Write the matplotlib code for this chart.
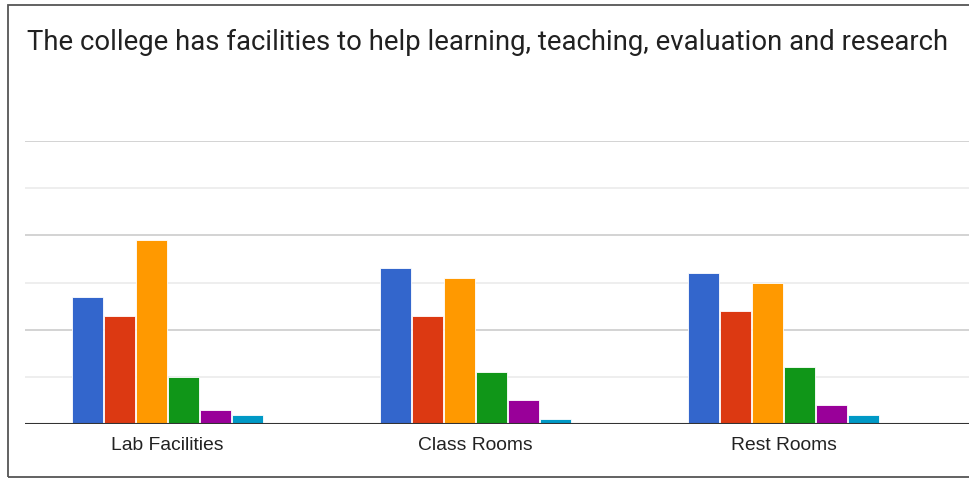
import numpy as np
import matplotlib
matplotlib.use('Agg')
import matplotlib.pyplot as plt
from matplotlib.patches import Rectangle

title = "The college has facilities to help learning, teaching, evaluation and research"
categories = ["Lab Facilities", "Class Rooms", "Rest Rooms"]

# one list of counts per response option, one entry per category
series_1 = [27, 33, 32]
series_2 = [23, 23, 24]
series_3 = [39, 31, 30]
series_4 = [10, 11, 12]
series_5 = [3, 5, 4]
series_6 = [2, 1, 2]
series = [series_1, series_2, series_3, series_4, series_5, series_6]
colors = ["#3366cc", "#dc3912", "#ff9900", "#109618", "#990099", "#0099c6"]

W, H = 969, 479
fig = plt.figure(figsize=(W / 100, H / 100), dpi=100)

# plot area in pixels: left 25, right 969, top 141, bottom 424
ax = fig.add_axes([25 / W, 1 - 424 / H, (969 - 25) / W, (424 - 141) / H])

x = np.arange(len(categories))
slot = 0.1037
bw = 0.099
for i, (vals, c) in enumerate(zip(series, colors)):
    offs = (i - 2.5) * slot
    ax.bar(x + offs, vals, width=bw, color=c, edgecolor="white",
           linewidth=0.6, zorder=3)

ax.set_xlim(-0.4627, 2.602)
ax.set_ylim(0, 60)

# gridlines: darker every 20, lighter in between
for yv in range(10, 61, 10):
    col = "#cccccc" if yv % 20 == 0 else "#ebebeb"
    ax.axhline(yv, color=col, linewidth=1.2, zorder=1)
ax.axhline(0, color="#333333", linewidth=1.5, zorder=4)

for s in ax.spines.values():
    s.set_visible(False)
ax.set_yticks([])
ax.set_xticks(x)
ax.set_xticklabels(categories, fontsize=13.9, family="Liberation Sans",
                   color="#222222")
ax.tick_params(axis="x", length=0, pad=9)

fig.text(27 / W, 1 - 42 / H, title, fontsize=19.8, family="Roboto",
         color="#212121", va="center", ha="left")

# outer frame
fig.patches.append(Rectangle((8 / W, 1 - 476.5 / H), 1.0, (476.5 - 5) / H,
                             transform=fig.transFigure, fill=False,
                             edgecolor="#555555", linewidth=1.3))

plt.savefig("out.png", dpi=100)
plt.close()
